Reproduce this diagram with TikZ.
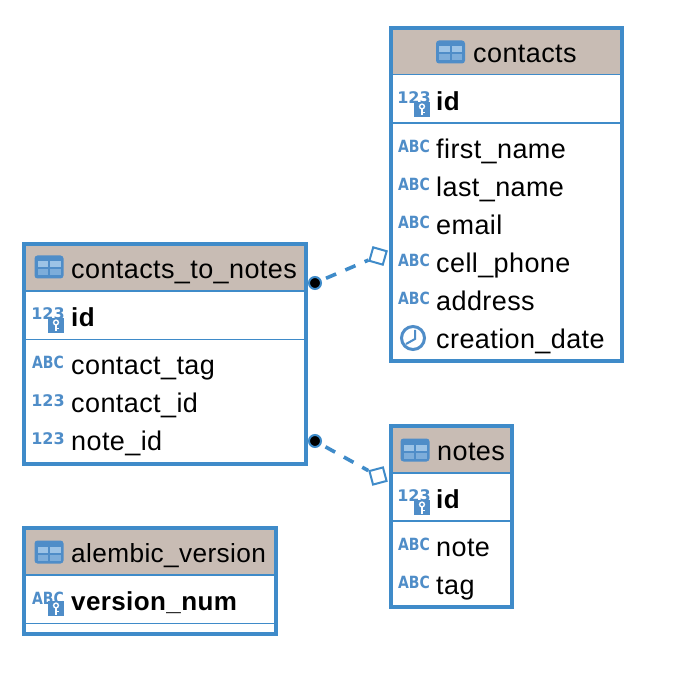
\documentclass[tikz,border=0pt]{standalone}
\usepackage{fontspec}
\setmainfont{Liberation Sans}[LetterSpace=1.5]
\newfontfamily\typefont{DejaVu Sans}
\usepackage{xcolor}
\usetikzlibrary{positioning,calc}
\definecolor{ink}{HTML}{000000}
\definecolor{frame}{HTML}{3F8BC9}
\definecolor{header}{HTML}{C8BCB4}
\definecolor{iconblue}{HTML}{4F8DC8}
\definecolor{iconpale}{HTML}{9CC3E6}
\tikzset{
  rowtext/.style={font=\fontsize{27}{30}\selectfont,text=ink,anchor=base west,inner sep=0pt,yshift=-0.8pt},
  keytext/.style={font=\fontsize{26}{30}\selectfont\bfseries,text=ink,anchor=base west,inner sep=0pt,yshift=-0.8pt},
  abctext/.style={font=\typefont\fontsize{14}{16}\selectfont\bfseries,text=iconblue,anchor=center,inner sep=0pt},
  numtext/.style={font=\typefont\fontsize{16}{16}\selectfont\bfseries,text=iconblue,anchor=center,inner sep=0pt},
  dotend/.style={circle,draw=frame,fill=black,line width=2pt,minimum size=12pt,inner sep=0pt},
  boxend/.style={rectangle,draw=frame,fill=white,line width=2pt,minimum size=14pt,inner sep=0pt},
  relation/.style={draw=frame,line width=3.6pt,dash pattern=on 11pt off 10pt,dash phase=16pt}
}
\newcommand{\abc}{\scalebox{1}[1.2]{ABC}}
% x1, y1, x2, y2, header bottom, key row bottom
\newcommand{\dbtable}[6]{
  \fill[header] (#1,#2) rectangle (#3,#5);
  \draw[frame,line width=1.8pt] (#1,#5) -- (#3,#5);
  \draw[frame,line width=1.8pt] (#1,#6) -- (#3,#6);
  \draw[frame,line width=4pt] (#1,#2) rectangle (#3,#4);
}
\newcommand{\tableicon}[2]{
  \fill[iconblue,rounded corners=3pt] (#1-14.5,#2-11.5) rectangle (#1+14.5,#2+11.5);
  \fill[iconpale] (#1-11.5,#2-5.5) rectangle (#1-1,#2+0.5);
  \fill[iconpale] (#1+1,#2-5.5) rectangle (#1+11.5,#2+0.5);
  \fill[iconpale!60!iconblue] (#1-11.5,#2+2.5) rectangle (#1-1,#2+8.5);
  \fill[iconpale!60!iconblue] (#1+1,#2+2.5) rectangle (#1+11.5,#2+8.5);
}
\newcommand{\keyicon}[2]{
  \fill[iconblue] (#1,#2) rectangle (#1+16,#2+15);
  \draw[white,line width=1.4pt] (#1+8,#2+4.5) circle (2.4pt);
  \draw[white,line width=1.4pt] (#1+8,#2+7) -- (#1+8,#2+13.5) (#1+8,#2+10.5) -- (#1+11,#2+10.5);
}
\newcommand{\clockicon}[2]{
  \draw[iconblue,line width=3pt] (#1,#2) circle (11.5pt);
  \draw[iconblue,line width=2pt] (#1+2,#2-8) -- (#1+2,#2+1) -- (#1-7,#2+6);
}
\begin{document}
\begin{tikzpicture}[x=1pt,y=-1pt]
  \useasboundingbox (0,0) rectangle (696,684);
  \fill[white] (0,0) rectangle (696,684);

  % --- contacts ---
  \dbtable{390.5}{28.5}{622}{361}{74.5}{123}
  \tableicon{450.5}{52}
  \node[rowtext] (contacts) at (473,62) {contacts};
  \node[numtext] (contactsidtype) at (414,98) {123};
  \keyicon{414}{102}
  \node[keytext] (contactsid) at (436,110) {id};
  \node[abctext] (firstnametype) at (414,146) {\abc};
  \node[rowtext] (firstname) at (436,158) {first\_name};
  \node[abctext] (lastnametype) at (414,184) {\abc};
  \node[rowtext] (lastname) at (436,196) {last\_name};
  \node[abctext] (emailtype) at (414,222) {\abc};
  \node[rowtext] (email) at (436,234) {email};
  \node[abctext] (cellphonetype) at (414,260) {\abc};
  \node[rowtext] (cellphone) at (436,272) {cell\_phone};
  \node[abctext] (addresstype) at (414,298) {\abc};
  \node[rowtext] (address) at (436,310) {address};
  \clockicon{413}{338}
  \node[rowtext] (creationdate) at (436,348) {creation\_date};

  % --- contacts_to_notes ---
  \dbtable{24}{244}{306}{464}{291}{339.5}
  \tableicon{49}{267}
  \node[rowtext] (ctn) at (71,278) {contacts\_to\_notes};
  \node[numtext] (ctnidtype) at (48,314) {123};
  \keyicon{48}{318}
  \node[keytext] (ctnid) at (71,326) {id};
  \node[abctext] (contacttagtype) at (48,362) {\abc};
  \node[rowtext] (contacttag) at (71,374) {contact\_tag};
  \node[numtext] (contactidtype) at (48,401) {123};
  \node[rowtext] (contactid) at (71,412) {contact\_id};
  \node[numtext] (noteidtype) at (48,439) {123};
  \node[rowtext] (noteid) at (71,450) {note\_id};

  % --- notes ---
  \dbtable{390.5}{426}{512}{607}{473}{521}
  \tableicon{415}{450}
  \node[rowtext] (notes) at (437,460) {notes};
  \node[numtext] (notesidtype) at (414,496) {123};
  \keyicon{414}{500}
  \node[keytext] (notesid) at (436,508) {id};
  \node[abctext] (notetype) at (414,544) {\abc};
  \node[rowtext] (note) at (436,556) {note};
  \node[abctext] (tagtype) at (414,582) {\abc};
  \node[rowtext] (tag) at (436,594) {tag};

  % --- alembic_version ---
  \dbtable{24}{528}{276}{634}{575}{623.5}
  \tableicon{49}{552}
  \node[rowtext,font=\fontsize{26.2}{30}\selectfont] (alembic) at (71,562) {alembic\_version};
  \node[abctext] (versiontype) at (48,598) {\abc};
  \keyicon{48}{601}
  \node[keytext] (version) at (71,610) {version\_num};

  % --- relations ---
  \node[dotend] (ctnfrom) at (315,283) {};
  \node[boxend,rotate=-16] (contactsto) at (378,256) {};
  \node[dotend] (notefrom) at (315,441) {};
  \node[boxend,rotate=15] (notesto) at (378,476) {};
  \draw[relation] (ctnfrom) -- (contactsto);
  \draw[relation] (notefrom) -- (notesto);
\end{tikzpicture}
\end{document}
